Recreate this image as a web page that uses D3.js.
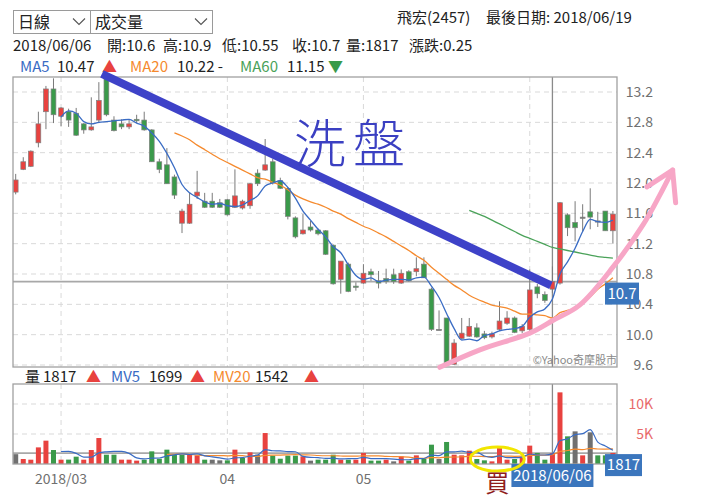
<!DOCTYPE html>
<html><head><meta charset="utf-8">
<script src="https://cdn.jsdelivr.net/npm/d3@7"></script>
<style>
body{margin:0;background:#fff}
svg{display:block}
text{font-family:"Noto Sans CJK TC","Noto Sans",sans-serif}
</style></head>
<body><svg id="c" width="720" height="498"></svg>
<script>
// ---------------- data ----------------
const year = "2018";
const dates = ["02/12","02/21","02/22","02/23","02/26","02/27",
"03/01","03/02","03/05","03/06","03/07","03/08","03/09","03/12","03/13","03/14","03/15","03/16","03/19","03/20","03/21","03/22","03/23","03/26","03/27","03/28","03/29","03/30",
"04/02","04/03","04/09","04/10","04/11","04/12","04/13","04/16","04/17","04/18","04/19","04/20","04/23","04/24","04/25","04/26","04/27","04/30",
"05/02","05/03","05/04","05/07","05/08","05/09","05/10","05/11","05/14","05/15","05/16","05/17","05/18","05/21","05/22","05/23","05/24","05/25","05/28","05/29","05/30","05/31",
"06/01","06/04","06/05","06/06","06/07","06/08","06/11","06/12","06/13","06/14","06/15","06/19"];

const open  = [11.88,12.18,12.22,12.53,12.94,13.24,12.88,12.94,12.92,12.78,12.70,12.83,13.40,12.83,12.78,12.74,12.84,12.83,12.70,12.28,
12.24,12.08,11.47,11.47,11.83,11.76,11.76,11.74,11.78,11.68,11.67,11.70,12.13,12.17,12.28,12.03,11.93,11.54,11.33,11.42,
11.38,11.37,11.18,10.73,10.93,10.64,10.68,10.83,10.71,10.74,10.79,10.68,10.83,10.83,10.93,10.60,10.07,10.22,9.61,9.95,
9.98,10.09,10.01,9.97,10.07,10.15,10.22,10.05,10.07,10.63,10.53,10.60,10.68,11.58,11.48,11.55,11.62,11.50,11.63,11.37];
const high  = [12.12,12.34,12.43,12.94,13.28,13.38,13.00,12.98,12.99,12.79,13.13,13.33,13.42,12.88,12.84,12.83,12.90,12.94,12.71,12.32,
12.46,12.11,11.66,11.87,12.16,11.87,11.87,11.79,11.79,12.18,11.78,12.00,12.18,12.58,12.32,12.07,11.94,11.56,11.59,11.50,
11.40,11.38,11.19,10.97,10.95,10.69,10.93,10.87,10.84,10.87,10.87,10.86,10.85,11.02,11.02,10.62,10.32,10.22,9.94,10.22,
10.22,10.15,10.05,10.04,10.44,10.31,10.24,10.14,10.86,10.67,10.57,10.90,11.75,11.60,11.76,11.72,11.93,11.62,11.63,11.63];
const low   = [11.85,12.17,12.21,12.47,12.71,12.79,12.75,12.74,12.62,12.65,12.69,12.79,12.88,12.68,12.71,12.71,12.79,12.69,12.28,12.13,
11.99,11.79,11.34,11.46,11.79,11.67,11.67,11.67,11.57,11.67,11.65,11.66,11.96,12.16,11.98,11.92,11.52,11.27,11.32,11.36,
11.31,11.05,10.66,10.54,10.56,10.58,10.67,10.71,10.61,10.67,10.67,10.67,10.70,10.77,10.75,10.05,10.06,9.60,9.60,9.94,
9.97,9.96,9.94,9.95,10.05,10.13,10.02,10.02,10.05,10.48,10.42,10.55,10.66,11.30,11.23,11.36,11.39,11.42,11.37,11.20];
const close = [12.04,12.28,12.42,12.78,13.24,12.90,12.99,12.83,12.63,12.70,12.74,13.09,12.90,12.69,12.74,12.78,12.82,12.70,12.28,12.18,
11.99,11.84,11.63,11.72,11.88,11.68,11.68,11.68,11.58,11.83,11.76,11.99,11.99,12.24,12.00,11.93,11.56,11.29,11.38,11.38,
11.33,11.06,10.67,10.97,10.57,10.63,10.81,10.79,10.68,10.70,10.70,10.81,10.71,10.87,10.75,10.07,10.07,9.62,9.89,10.02,
10.11,9.97,9.96,10.01,10.18,10.22,10.03,10.11,10.59,10.54,10.45,10.70,11.74,11.41,11.41,11.55,11.55,11.50,11.37,11.59];
const volume = [1640,830,720,2770,3890,2330,720,730,1220,720,2330,4330,1550,1550,720,720,560,720,2110,880,
2390,1550,1550,1550,1440,720,720,610,610,2390,1000,1940,1550,5160,1390,880,1390,1390,1280,560,
720,720,1550,720,720,720,1840,560,560,720,440,1280,560,1440,880,3220,830,3670,1550,1440,
2220,830,610,440,2660,720,830,1060,3060,1840,720,1817,11940,4610,5440,1440,5280,1440,1440,1840];

// moving averages as shown on the chart (first index where each line appears)
const ma5Start = 6;
const ma5 = [12.87,12.95,12.92,12.81,12.78,12.80,12.81,12.82,12.83,12.84,12.79,12.75,12.66,12.55,12.39,12.20,11.98,11.87,11.81,11.75,
11.72,11.73,11.70,11.69,11.71,11.77,11.83,11.96,12.00,12.03,11.94,11.80,11.63,11.51,11.39,11.29,11.16,11.08,10.92,10.78,
10.73,10.75,10.70,10.72,10.73,10.73,10.72,10.75,10.76,10.64,10.49,10.28,10.08,9.93,9.94,9.92,9.99,10.01,10.05,10.07,
10.08,10.11,10.23,10.30,10.34,10.47,10.80,10.96,11.14,11.36,11.52,11.49,11.48,11.51];
const ma20Start = 21;
const ma20 = [12.66,12.62,12.57,12.50,12.44,12.38,12.32,12.27,12.22,12.17,12.12,12.07,12.05,12.01,11.97,11.91,11.84,11.79,11.75,11.72,
11.68,11.63,11.59,11.53,11.48,11.43,11.39,11.34,11.29,11.23,11.17,11.11,11.04,10.98,10.89,10.81,10.73,10.65,10.59,10.52,
10.47,10.43,10.39,10.37,10.35,10.31,10.27,10.27,10.26,10.25,10.22,10.29,10.32,10.35,10.43,10.50,10.60,10.67,10.75];
const ma60Start = 60;
const ma60 = [11.64,11.60,11.56,11.51,11.46,11.41,11.36,11.31,11.27,11.23,11.19,11.15,11.13,11.11,11.09,11.07,11.05,11.03,11.02,11.01];
const mv5Start = 6;
const mv5 = [2086,2088,1778,1144,1144,1866,2030,2096,2096,1774,1020,854,966,998,1332,1530,1696,1584,1696,1362,
1196,1008,820,1010,1066,1310,1498,2408,2208,2184,2074,2042,1266,1100,1068,934,966,854,886,886,
1110,912,880,880,824,712,712,888,920,1476,1386,2008,2030,2142,1942,1942,1330,1108,1352,1052,
1052,1142,1666,1502,1502,1699,3875,4185,4905,5049,5742,3642,3008,2288];
const mv20Start = 20;
const mv20 = [1590,1626,1667,1606,1484,1403,1403,1397,1367,1450,1384,1264,1264,1445,1478,1486,1528,1561,1520,1504,
1420,1379,1379,1337,1301,1301,1357,1355,1352,1269,1241,1208,1158,972,947,1064,1036,1150,1163,1207,
1282,1288,1241,1227,1324,1324,1273,1298,1423,1479,1493,1542,2089,2247,2475,2386,2609,2497,2492,2512];

const priceTicks = [13.2,12.8,12.4,12.0,11.6,11.2,10.8,10.4,10.0,9.6];
const volTicks = [5000,10000];
const volTickLabels = ["5K","10K"];
const monthLabels = ["2018/03","04","05"]; // the "06" label is hidden under the date tag

const selIndex = 71; // 2018/06/06
const stockName = "飛宏(2457)";
const lastDate = "2018/06/19";

// hand-drawn annotations, in [bar index, price] units
const washLine = [[11.4,13.44],[70.8,10.65]];
const pinkCurve = [[56.1,9.57],[61.4,9.80],[68.0,10.02],[71.1,10.19],[74.6,10.39],[79.0,10.89],[83.0,11.45],[85.2,11.84],[86.9,12.17]];
const pinkHead = [[83.5,11.95],[86.9,12.17],[87.3,11.74]];
const buyMark = [63.7, 830]; // [bar index, volume]

// ---------------- drawing ----------------
const svg = d3.select("#c");
const P = {l:13, r:617, t:77, b:367};
const V = {l:13, r:617, t:384, b:464};
const RED="#e8423f", GREEN="#3a9a4a", GRAY="#707070";
const C5="#3a6cc4", C20="#f58a2e", C60="#4aa259";

const x = d3.scaleLinear().domain([0, dates.length-1]).range([15.7, 612.9]);
const y = d3.scaleLinear().domain([9.6, 13.2]).range([365, 92]);
const yv = d3.scaleLinear().domain([0, 10000]).range([464, 404]);

// month starts
const monthStarts = [];
dates.forEach((d,i)=>{ if(i>0 && d.slice(0,2)!==dates[i-1].slice(0,2)) monthStarts.push(i); });

const g = svg.append("g");
// grid
g.selectAll(".hg").data(priceTicks).join("line")
  .attr("x1",P.l).attr("x2",P.r).attr("y1",d=>y(d)).attr("y2",d=>y(d))
  .attr("stroke","#d9d9d9").attr("stroke-dasharray","5,4");
g.selectAll(".vg").data(volTicks).join("line")
  .attr("x1",V.l).attr("x2",V.r).attr("y1",d=>yv(d)).attr("y2",d=>yv(d))
  .attr("stroke","#d9d9d9").attr("stroke-dasharray","5,4");
[P,V].forEach(p=>{
  g.append("g").selectAll("line").data(monthStarts).join("line")
   .attr("x1",d=>x(d)).attr("x2",d=>x(d)).attr("y1",p.t).attr("y2",p.b)
   .attr("stroke","#d9d9d9").attr("stroke-dasharray","5,4");
});

// crosshair
const cx = x(selIndex);
g.append("line").attr("x1",P.l).attr("x2",P.r).attr("y1",y(close[selIndex])).attr("y2",y(close[selIndex]))
  .attr("stroke","#a8a8a8").attr("stroke-width",1.8);
g.append("line").attr("x1",V.l).attr("x2",V.r).attr("y1",yv(volume[selIndex])).attr("y2",yv(volume[selIndex]))
  .attr("stroke","#a8a8a8").attr("stroke-width",1.8);
[P,V].forEach(p=>g.append("line").attr("x1",cx).attr("x2",cx).attr("y1",p.t).attr("y2",p.b)
  .attr("stroke","#8a8a8a").attr("stroke-width",1.3));

// candles
const idx = d3.range(dates.length);
const cColor = i => close[i]>open[i]?RED:(close[i]<open[i]?GREEN:GRAY);
const cg = g.append("g");
cg.selectAll("line").data(idx).join("line")
  .attr("x1",i=>x(i)).attr("x2",i=>x(i)).attr("y1",i=>y(high[i])).attr("y2",i=>y(low[i]))
  .attr("stroke","#7a7a7a").attr("stroke-width",1);
cg.selectAll("rect").data(idx).join("rect")
  .attr("x",i=>x(i)-2.4).attr("width",4.8)
  .attr("y",i=>y(Math.max(open[i],close[i])))
  .attr("height",i=>Math.max(1.2, Math.abs(y(open[i])-y(close[i]))))
  .attr("fill",cColor).attr("stroke","#808080").attr("stroke-width",0.7);

// MA lines
const lineP = d3.line().x(d=>x(d[0])).y(d=>y(d[1])).curve(d3.curveMonotoneX);
const lineV = d3.line().x(d=>x(d[0])).y(d=>yv(d[1])).curve(d3.curveMonotoneX);
const pts = (arr,s)=>arr.map((v,k)=>[s+k,v]);
[[ma60,ma60Start,C60],[ma20,ma20Start,C20],[ma5,ma5Start,C5]].forEach(([a,s,c])=>
  g.append("path").attr("d",lineP(pts(a,s))).attr("fill","none").attr("stroke",c).attr("stroke-width",1.3));

// volume bars
const vColor = i => i===0?GRAY:(close[i]>close[i-1]?RED:(close[i]<close[i-1]?GREEN:GRAY));
g.append("g").selectAll("rect").data(idx).join("rect")
  .attr("x",i=>x(i)-2.5).attr("width",5)
  .attr("y",i=>yv(volume[i])).attr("height",i=>yv(0)-yv(volume[i]))
  .attr("fill",vColor);
[[mv20,mv20Start,C20],[mv5,mv5Start,C5]].forEach(([a,s,c])=>
  g.append("path").attr("d",lineV(pts(a,s))).attr("fill","none").attr("stroke",c).attr("stroke-width",1.2));

// borders
[P,V].forEach(p=>g.append("rect").attr("x",p.l).attr("y",p.t).attr("width",p.r-p.l).attr("height",p.b-p.t)
  .attr("fill","none").attr("stroke","#a0a0a0").attr("stroke-width",1.3));

// axis labels
g.selectAll(".pt").data(priceTicks).join("text")
  .attr("x",653).attr("y",d=>y(d)).attr("dy","0.35em").attr("text-anchor","end")
  .attr("font-size",14).attr("fill","#707070").text(d=>d3.format(".1f")(d));
g.selectAll(".vt").data(volTicks).join("text")
  .attr("x",653).attr("y",d=>yv(d)).attr("dy","0.35em").attr("text-anchor","end")
  .attr("font-size",14).attr("fill","#e86a6a").text((d,k)=>volTickLabels[k]);
g.selectAll(".xt").data(monthLabels).join("text")
  .attr("x",(d,k)=>x(monthStarts[k])).attr("y",484).attr("text-anchor","middle")
  .attr("font-size",14).attr("fill","#707070").text(d=>d);

g.append("text").attr("x",P.r).attr("y",P.b-3).attr("text-anchor","end")
  .attr("font-size",11).attr("fill","#8a8a8a").text("©Yahoo奇摩股市");

// value tags
function tag(xl, yt, w, h, txt){
  g.append("rect").attr("x",xl).attr("y",yt).attr("width",w).attr("height",h).attr("fill","#3b76bd");
  g.append("text").attr("x",xl+w/2).attr("y",yt+h/2).attr("dy","0.36em").attr("text-anchor","middle")
   .attr("font-size",15).attr("fill","#fff").text(txt);
}
tag(605, y(close[selIndex])+1, 34, 22, String(close[selIndex]));
tag(605, yv(volume[selIndex])+1, 37, 22, String(volume[selIndex]));
tag(cx-41, V.b, 82, 23, year+"/"+dates[selIndex]);

// header
const hdr = svg.append("g").attr("font-size",15).attr("fill","#222");
hdr.append("rect").attr("x",13.5).attr("y",10.5).attr("width",77).attr("height",23).attr("fill","#fff").attr("stroke","#9a9a9a");
hdr.append("rect").attr("x",90.5).attr("y",10.5).attr("width",122).attr("height",23).attr("fill","#fff").attr("stroke","#9a9a9a");
hdr.append("text").attr("x",18).attr("y",28).attr("font-size",16).text("日線");
hdr.append("text").attr("x",95).attr("y",28).attr("font-size",16).text("成交量");
hdr.append("path").attr("d","M73,18.5 L79,24.5 L85,18.5").attr("fill","none").attr("stroke","#555").attr("stroke-width",1.1);
hdr.append("path").attr("d","M195,18.5 L201,24.5 L207,18.5").attr("fill","none").attr("stroke","#555").attr("stroke-width",1.1);
hdr.append("text").attr("x",397).attr("y",23).text(stockName);
hdr.append("text").attr("x",486).attr("y",23).text("最後日期: "+lastDate);

const i0 = selIndex;
const info = [[13,year+"/"+dates[i0]],[107,"開:"+open[i0]],[163,"高:"+high[i0]],[222,"低:"+low[i0]],
  [292,"收:"+close[i0]],[346,"量:"+volume[i0]],[409,"漲跌:"+d3.format(".2f")(close[i0]-close[i0-1])]];
info.forEach(([xx,t])=>hdr.append("text").attr("x",xx).attr("y",51).text(t));

function legend(items, yy){
  items.forEach(([xx,t,c])=>svg.append("text").attr("x",xx).attr("y",yy).attr("font-size",15).attr("fill",c).text(t));
}
legend([[20,"MA5",C5],[57,String(ma5[i0-ma5Start]),"#222"],[102,"▲",RED],
        [130,"MA20",C20],[177,String(ma20[i0-ma20Start])+" -","#222"],
        [240,"MA60",C60],[287,String(ma60[i0-ma60Start]),"#222"],[328,"▼",GREEN]], 72);
legend([[25,"量","#222"],[43,String(volume[i0]),"#222"],[86,"▲",RED],
        [111,"MV5",C5],[149,String(mv5[i0-mv5Start]),"#222"],[190,"▲",RED],
        [213,"MV20",C20],[255,String(mv20[i0-mv20Start]),"#222"],[304,"▲",RED]], 382);

// annotations
const ann = svg.append("g");
ann.append("line").attr("x1",x(washLine[0][0])).attr("y1",y(washLine[0][1]))
  .attr("x2",x(washLine[1][0])).attr("y2",y(washLine[1][1]))
  .attr("stroke","#3e42c8").attr("stroke-width",8);
ann.append("text").attr("x",353).attr("y",163).attr("text-anchor","middle")
  .attr("font-size",52).attr("letter-spacing",7).attr("fill","#3b40c2").attr("font-weight",300).text("洗盤");
const pl = d3.line().x(d=>x(d[0])).y(d=>y(d[1])).curve(d3.curveCatmullRom);
ann.append("path").attr("d",pl(pinkCurve)).attr("fill","none").attr("stroke","#f7a6c6").attr("stroke-width",5).attr("stroke-linecap","round");
ann.append("path").attr("d",d3.line().x(d=>x(d[0])).y(d=>y(d[1]))(pinkHead)).attr("fill","none")
  .attr("stroke","#f7a6c6").attr("stroke-width",5).attr("stroke-linecap","round").attr("stroke-linejoin","round");
ann.append("ellipse").attr("cx",x(buyMark[0])).attr("cy",yv(buyMark[1])).attr("rx",27).attr("ry",12)
  .attr("fill","none").attr("stroke","#f2e600").attr("stroke-width",3);
ann.append("text").attr("x",x(buyMark[0])).attr("y",492).attr("text-anchor","middle")
  .attr("font-size",24).attr("fill","#8f1d1d").text("買");
</script>
</body></html>
